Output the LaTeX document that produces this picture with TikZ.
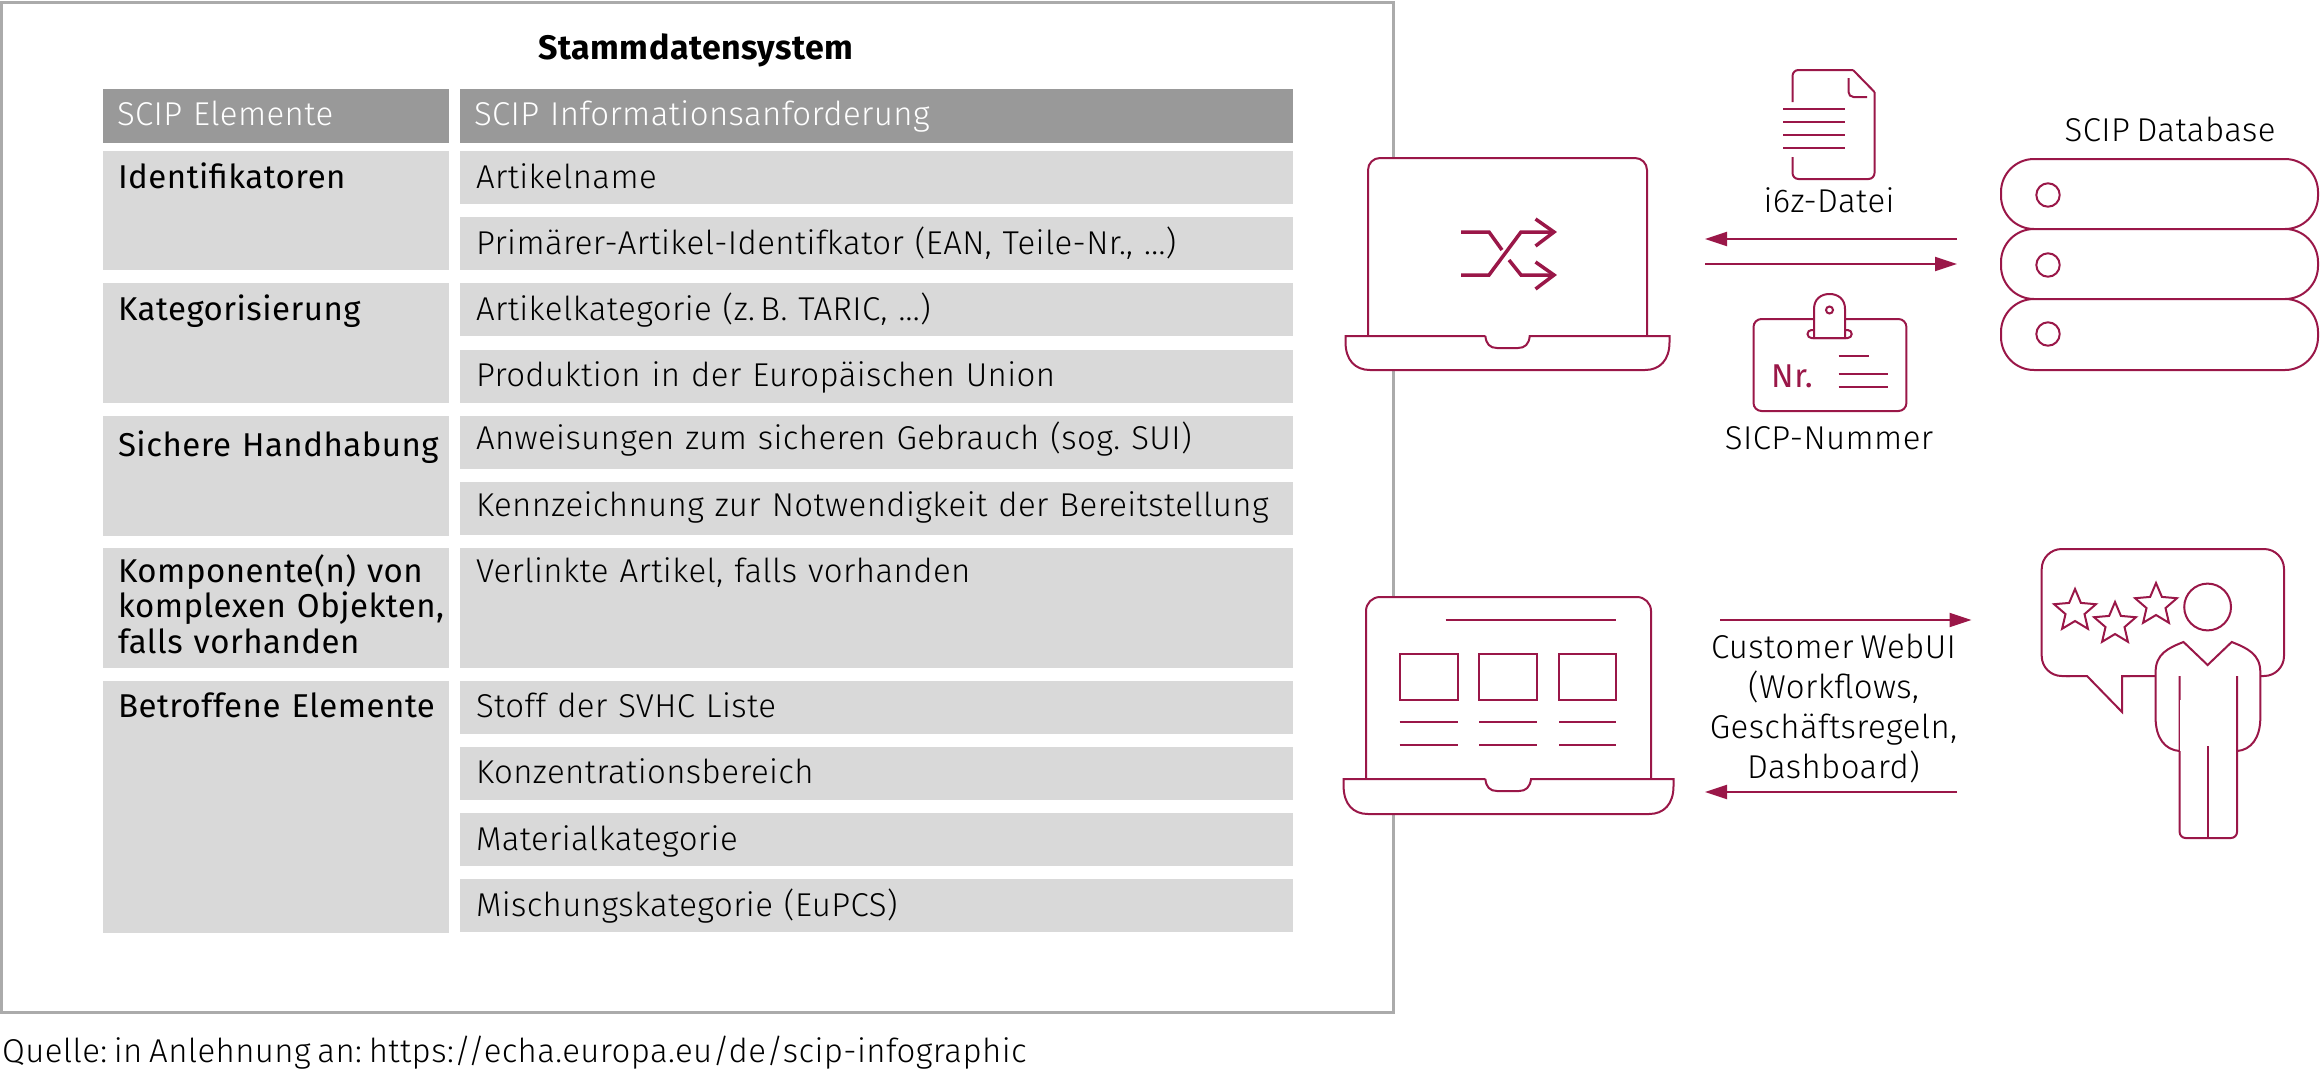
\documentclass[tikz,border=0pt]{standalone}
\usepackage{fontspec}
\setmainfont[LetterSpace=1.5,WordSpace=0.7]{Fira Sans}
\newfontfamily\lightfont[LetterSpace=1.2,WordSpace=0.7]{Fira Sans Light}
\frenchspacing
\usetikzlibrary{arrows.meta,shapes.geometric}
\definecolor{scipred}{HTML}{9A1748}
\definecolor{headgray}{HTML}{999999}
\definecolor{cellgray}{HTML}{D9D9D9}
\definecolor{framegray}{HTML}{ABABAB}
\tikzset{
  headcell/.style={anchor=north west, fill=headgray, text=white, inner xsep=14pt, inner ysep=0pt, outer sep=0pt, align=left, text height=36pt, text depth=18pt, font=\lightfont\fontsize{33}{35.5}\selectfont},
  groupcell/.style={anchor=north west, fill=cellgray, inner xsep=15pt, inner ysep=0pt, outer sep=0pt, align=left, text width=316pt, text height=37pt, font=\fontsize{33}{35.5}\selectfont},
  infocell/.style={anchor=north west, fill=cellgray, inner xsep=16pt, inner ysep=0pt, outer sep=0pt, align=left, text width=801pt, text height=37pt, text depth=16pt, font=\lightfont\fontsize{33}{35.5}\selectfont},
  iconline/.style={draw=scipred, line width=2pt, fill=white},
  thinline/.style={draw=scipred, line width=2pt},
  signline/.style={draw=scipred, line width=3.5pt},
  lbl/.style={anchor=base, inner sep=0pt, font=\lightfont\fontsize{33}{35.5}\selectfont},
  flow/.style={draw=scipred, line width=2pt, -{Triangle[length=22pt,width=14pt]}},
  rating/.style={star, star points=5, star point ratio=2.2, draw=scipred, line width=2pt, fill=white, inner sep=0pt, minimum size=44pt}
}
\begin{document}
\begin{tikzpicture}[x=1pt, y=-1pt]
  \useasboundingbox (0,0) rectangle (2320,1072);
  \node[draw=framegray, line width=3pt, anchor=north west, inner sep=0pt, outer sep=0pt, minimum width=1392pt, minimum height=1010pt] (frame) at (1.5,2) {};
  \node[anchor=base, inner sep=0pt, font=\bfseries\fontsize{34}{35.5}\selectfont] (title) at (696,59) {Stammdatensystem};
  % table, left column
  \node[headcell, text width=318pt] (headA) at (103,89) {SCIP Elemente};
  \node[groupcell, text depth=82pt] (idA) at (103,151) {Identifikatoren};
  \node[groupcell, text depth=83pt] (katA) at (103,283.4) {Kategorisierung};
  \node[groupcell, text height=41pt, text depth=79pt] (sichA) at (103,415.8) {\mbox{Sichere Handhabung}};
  \node[groupcell, text height=34pt, text depth=86pt] (kompA) at (103,548.2) {\mbox{Komponente(n) von}\\\mbox{komplexen Objekten,}\\\mbox{falls vorhanden}};
  \node[groupcell, text depth=215pt] (betrA) at (103,680.6) {\mbox{Betroffene Elemente}};
  % table, right column
  \node[headcell, text width=805pt] (headB) at (460,89) {SCIP Informationsanforderung};
  \node[infocell] (infoA) at (460,151) {Artikelname};
  \node[infocell] (infoB) at (460,217.2) {Primärer-Artikel-Identifkator (EAN, Teile-Nr., ...)};
  \node[infocell] (infoC) at (460,283.4) {Artikelkategorie (z.\,B. TARIC, ...)};
  \node[infocell] (infoD) at (460,349.6) {Produktion in der Europäischen Union};
  \node[infocell, text height=34pt, text depth=19pt] (infoE) at (460,415.8) {Anweisungen zum sicheren Gebrauch (sog. SUI)};
  \node[infocell, text height=34pt, text depth=19pt] (infoF) at (460,482) {\mbox{Kennzeichnung zur Notwendigkeit der Bereitstellung}};
  \node[infocell, text height=34pt, text depth=86pt] (infoG) at (460,548.2) {Verlinkte Artikel, falls vorhanden};
  \node[infocell] (infoH) at (460,680.6) {Stoff der SVHC Liste};
  \node[infocell] (infoI) at (460,746.8) {Konzentrationsbereich};
  \node[infocell] (infoJ) at (460,813) {Materialkategorie};
  \node[infocell] (infoK) at (460,879.2) {Mischungskategorie (EuPCS)};
  \node[lbl, anchor=base west] (source) at (2,1062) {Quelle: in Anlehnung an: https://echa.europa.eu/de/scip-infographic};
  % upper laptop
  \draw[iconline, rounded corners=12pt] (1368,336) -- (1368,158) -- (1647,158) -- (1647,336);
  \draw[iconline] (1485.4,336) -- (1345.5,336) -- (1345.5,342) .. controls (1345.5,360) and (1355,370) .. (1370,370) -- (1645,370) .. controls (1660,370) and (1669.5,360) .. (1669.5,342) -- (1669.5,336) -- (1529.7,336) .. controls (1529,344) and (1525,348) .. (1518,348) -- (1497,348) .. controls (1490,348) and (1486,344) .. (1485.4,336);
  % shuffle sign
  \draw[signline] (1461,232) -- (1489,232) -- (1502,250);
  \draw[signline] (1509,260) -- (1521,275) -- (1554,275);
  \draw[signline] (1461,275) -- (1489,275) -- (1521,232) -- (1554,232);
  \draw[signline] (1535.5,219) -- (1554,232) -- (1535.5,246);
  \draw[signline] (1535.5,262) -- (1554,275) -- (1535.5,289);
  % file
  \draw[thinline, rounded corners=6pt] (1792.5,102) -- (1792.5,70) -- (1853,70);
  \draw[thinline] (1853,70) -- (1874.5,92);
  \draw[thinline, rounded corners=6pt] (1874.5,92) -- (1874.5,179) -- (1792.5,179) -- (1792.5,157);
  \draw[thinline, rounded corners=5pt] (1848.5,78) -- (1848.5,97) -- (1867,97);
  \draw[thinline] (1783.4,109) -- (1845,109);
  \draw[thinline] (1783.4,122) -- (1845,122);
  \draw[thinline] (1783.4,135) -- (1845,135);
  \draw[thinline] (1783.4,148) -- (1845,148);
  \node[lbl] (fileLabel) at (1829,212) {i6z-Datei};
  % upper arrows
  \coordinate (upLeft) at (1705,239);
  \coordinate (upRight) at (1957,239);
  \coordinate (lowLeft) at (1705,264);
  \coordinate (lowRight) at (1957,264);
  \draw[flow] (upRight) -- (upLeft);
  \draw[flow] (lowLeft) -- (lowRight);
  % badge
  \draw[iconline, rounded corners=8pt] (1753.5,319) rectangle (1906.4,411);
  \draw[iconline, rounded corners=4pt] (1807.5,330) rectangle (1851.7,338);
  \draw[iconline] (1814,338) -- (1814,309) .. controls (1814,299) and (1821,294) .. (1829.5,294) .. controls (1838,294) and (1845,299) .. (1845,309) -- (1845,338) -- cycle;
  \draw[thinline] (1829.5,310) circle (3.5);
  \node[anchor=base west, inner sep=0pt, text=scipred, font=\fontsize{33}{35.5}\selectfont] (nrLabel) at (1771,387) {Nr.};
  \draw[thinline] (1838.7,356) -- (1869,356);
  \draw[thinline] (1838.7,374) -- (1888,374);
  \draw[thinline] (1838.7,387) -- (1888,387);
  \node[lbl] (badgeLabel) at (1829,449) {SICP-Nummer};
  % server
  \node[lbl] (dbLabel) at (2170,141) {SCIP Database};
  \draw[iconline, rounded corners=33pt] (2001,159) rectangle (2318,229);
  \draw[iconline, rounded corners=33pt] (2001,229) rectangle (2318,299);
  \draw[iconline, rounded corners=33pt] (2001,299) rectangle (2318,370);
  \draw[thinline] (2048,195) circle (11.7);
  \draw[thinline] (2048,265) circle (11.7);
  \draw[thinline] (2048,334) circle (11.7);
  % lower laptop
  \draw[iconline, rounded corners=14pt] (1366,779) -- (1366,597) -- (1651,597) -- (1651,779);
  \draw[iconline] (1485.4,779) -- (1343.6,779) -- (1343.6,786) .. controls (1343.6,804) and (1353,814) .. (1368,814) -- (1649,814) .. controls (1664,814) and (1673.5,804) .. (1673.5,786) -- (1673.5,779) -- (1531,779) .. controls (1530,787) and (1526,791) .. (1519,791) -- (1497,791) .. controls (1490,791) and (1486,787) .. (1485.4,779);
  \draw[thinline] (1445.7,620) -- (1616,620);
  \draw[thinline] (1399.5,654) rectangle (1457.5,700);
  \draw[thinline] (1479,654) rectangle (1537,700);
  \draw[thinline] (1559,654) rectangle (1616,700);
  \draw[thinline] (1399.5,722) -- (1457.5,722);
  \draw[thinline] (1479,722) -- (1537,722);
  \draw[thinline] (1559,722) -- (1616,722);
  \draw[thinline] (1399.5,745) -- (1457.5,745);
  \draw[thinline] (1479,745) -- (1537,745);
  \draw[thinline] (1559,745) -- (1616,745);
  % lower arrows
  \coordinate (webLeft) at (1720,620);
  \coordinate (webRight) at (1971.5,620);
  \coordinate (backLeft) at (1705,792);
  \coordinate (backRight) at (1957,792);
  \draw[flow] (webLeft) -- (webRight);
  \draw[flow] (backRight) -- (backLeft);
  \node[lbl] (webA) at (1833.5,658) {Customer WebUI};
  \node[lbl] (webB) at (1833.5,698) {(Workflows,};
  \node[lbl] (webC) at (1833.5,738) {Geschäftsregeln,};
  \node[lbl] (webD) at (1833.5,778) {Dashboard)};
  % person
  \draw[iconline, rounded corners=20pt] (2122,676) -- (2284,676) -- (2284,549) -- (2041.7,549) -- (2041.7,676) -- (2070,676);
  \draw[thinline] (2066,676) -- (2087,676) -- (2122,712) -- (2122,676) -- (2130,676);
  \node[rating] (starA) at (2075,611) {};
  \node[rating] (starB) at (2115,624) {};
  \node[rating] (starC) at (2156,605) {};
  \draw[iconline] (2207.6,607) circle (23.4);
  \draw[iconline] (2207.6,665) -- (2183.5,642) .. controls (2168,648) and (2155.6,654) .. (2155.6,672) -- (2155.6,718) .. controls (2155.6,738) and (2165,750) .. (2179.6,751) -- (2237,751) .. controls (2251,750) and (2260.3,738) .. (2260.3,718) -- (2260.3,672) .. controls (2260.3,654) and (2247,648) .. (2231.7,642) -- cycle;
  \draw[iconline, rounded corners=6pt] (2179.6,676) -- (2179.6,838) -- (2237,838) -- (2237,676);
  \draw[draw=white, line width=3pt] (2181,700) -- (2181,751);
  \draw[thinline] (2207.6,746) -- (2207.6,838);
\end{tikzpicture}
\end{document}
